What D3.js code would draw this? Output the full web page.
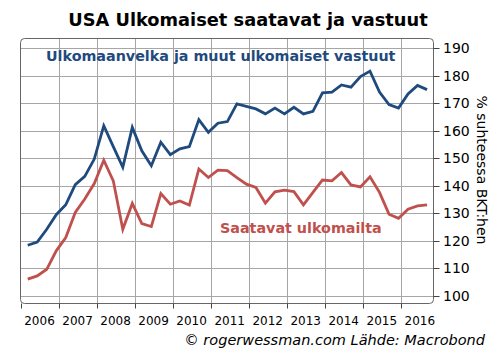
<!DOCTYPE html>
<html>
<head>
<meta charset="utf-8">
<script src="https://cdn.jsdelivr.net/npm/d3@7"></script>
<style>
  body { margin: 0; background: #fff; }
  svg { display: block; font-family: "DejaVu Sans", Verdana, sans-serif; }
</style>
</head>
<body>
<svg id="chart" width="496" height="361"></svg>
<script>
// quarterly data, 2006Q1 - 2016Q3 (% of GDP)
const quarters = [];
for (let yr = 2006; yr <= 2016; yr++) {
  for (let q = 1; q <= 4; q++) {
    if (yr === 2016 && q > 3) break;
    quarters.push(yr + 'Q' + q);
  }
}

const liabilities = [
  118.4, 119.6, 124.2, 129.5, 133.1, 140.4, 143.4, 149.7, 161.8, 154.2,
  146.7, 161.2, 152.7, 147.3, 155.8, 151.3, 153.4, 154.2, 164.0, 159.4,
  162.7, 163.3, 169.7, 168.8, 167.9, 166.1, 168.2, 166.1, 168.5, 166.1,
  167.0, 173.7, 174.0, 176.6, 175.8, 179.6, 181.6, 174.0, 169.5, 168.2,
  173.3, 176.4, 174.9
];

const assets = [
  106.1, 107.3, 109.7, 116.4, 121.2, 130.3, 135.2, 140.8, 149.3, 141.8,
  124.2, 133.6, 126.3, 125.2, 137.2, 133.3, 134.5, 133.0, 146.1, 143.0,
  145.7, 145.5, 143.0, 140.6, 139.4, 133.7, 137.8, 138.4, 137.9, 133.1,
  137.6, 142.1, 141.8, 144.8, 140.3, 139.6, 143.3, 137.6, 129.7, 128.2,
  131.5, 132.7, 133.1
];

const years = [2006, 2007, 2008, 2009, 2010, 2011, 2012, 2013, 2014, 2015, 2016];
const yTicks = [100, 110, 120, 130, 140, 150, 160, 170, 180, 190];

const svg = d3.select('#chart');
const box = { left: 20.5, right: 433.5, top: 38.5, bottom: 303.5 };

const x = d3.scaleLinear().domain([2006, 2016.86]).range([box.left, box.right]);
const y = d3.scaleLinear().domain([100, 190]).range([296, 48]);

// quarter -> position inside the year
const qTime = s => +s.slice(0, 4) + (+s.slice(5) - 1) * 0.25 + 0.19;

// title
svg.append('text')
  .attr('x', 248).attr('y', 25.5)
  .attr('text-anchor', 'middle')
  .attr('font-size', 17.8).attr('font-weight', 'bold')
  .attr('fill', '#000')
  .text('USA Ulkomaiset saatavat ja vastuut');

// grid
const grid = svg.append('g').attr('stroke', '#a6a6a6').attr('stroke-width', 1);
grid.selectAll('.h').data(yTicks).enter().append('line')
  .attr('x1', box.left).attr('x2', box.right)
  .attr('y1', d => Math.round(y(d)) + 0.5).attr('y2', d => Math.round(y(d)) + 0.5);
grid.selectAll('.v').data(years.slice(1)).enter().append('line')
  .attr('y1', box.top).attr('y2', box.bottom)
  .attr('x1', d => Math.round(x(d)) + 0.5).attr('x2', d => Math.round(x(d)) + 0.5);

// frame
svg.append('rect')
  .attr('x', box.left).attr('y', box.top)
  .attr('width', box.right - box.left).attr('height', box.bottom - box.top)
  .attr('rx', 4).attr('ry', 4)
  .attr('fill', 'none').attr('stroke', '#666').attr('stroke-width', 1);

// bottom axis ticks + labels
const xa = svg.append('g');
xa.selectAll('line').data(years).enter().append('line')
  .attr('x1', d => Math.round(x(d)) + 0.5).attr('x2', d => Math.round(x(d)) + 0.5)
  .attr('y1', box.bottom).attr('y2', box.bottom + 5)
  .attr('stroke', '#444');
xa.selectAll('text').data(years).enter().append('text')
  .attr('x', d => x(d + 0.5))
  .attr('y', 325)
  .attr('text-anchor', 'middle')
  .attr('font-size', 12)
  .attr('fill', '#000')
  .text(d => d);

// right axis
const ya = svg.append('g');
ya.selectAll('line').data(yTicks).enter().append('line')
  .attr('x1', box.right).attr('x2', box.right + 6)
  .attr('y1', d => Math.round(y(d)) + 0.5).attr('y2', d => Math.round(y(d)) + 0.5)
  .attr('stroke', '#444');
ya.selectAll('text').data(yTicks).enter().append('text')
  .attr('x', 443)
  .attr('y', d => y(d) + 5)
  .attr('font-size', 14)
  .attr('fill', '#000')
  .text(d => d);

svg.append('text')
  .attr('transform', 'translate(477,170) rotate(90)')
  .attr('text-anchor', 'middle')
  .attr('font-size', 14)
  .attr('fill', '#000')
  .text('% suhteessa BKT:hen');

// series
const line = d3.line()
  .x((d, i) => x(qTime(quarters[i])))
  .y(d => y(d));

svg.append('path')
  .datum(assets)
  .attr('d', line)
  .attr('fill', 'none')
  .attr('stroke', '#c0504d')
  .attr('stroke-width', 2.8)
  .attr('stroke-linejoin', 'miter');

svg.append('path')
  .datum(liabilities)
  .attr('d', line)
  .attr('fill', 'none')
  .attr('stroke', '#1f4a7e')
  .attr('stroke-width', 2.8)
  .attr('stroke-linejoin', 'miter');

// series labels
svg.append('text')
  .attr('x', 46).attr('y', 61)
  .attr('font-size', 14.3).attr('font-weight', 'bold')
  .attr('fill', '#1f4a7e')
  .text('Ulkomaanvelka ja muut ulkomaiset vastuut');

svg.append('text')
  .attr('x', 220).attr('y', 233)
  .attr('font-size', 14.3).attr('font-weight', 'bold')
  .attr('fill', '#c0504d')
  .text('Saatavat ulkomailta');

// source
svg.append('text')
  .attr('x', 485).attr('y', 345)
  .attr('text-anchor', 'end')
  .attr('font-size', 14.5).attr('font-style', 'italic')
  .attr('fill', '#000')
  .text('© rogerwessman.com Lähde: Macrobond');
</script>
</body>
</html>
